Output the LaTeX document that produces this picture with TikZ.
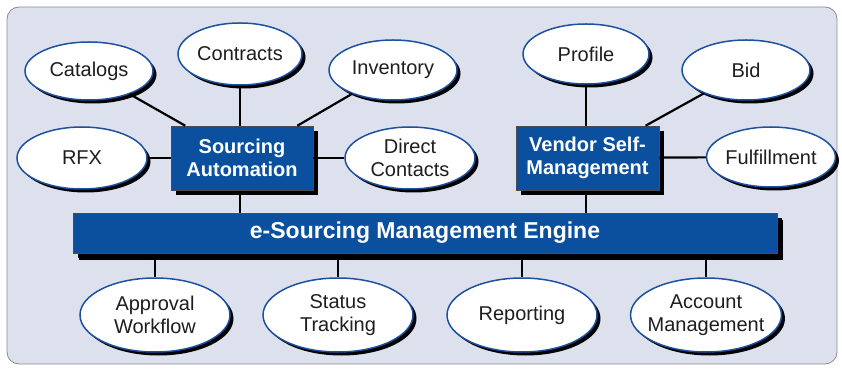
\documentclass[tikz,border=0pt]{standalone}
\usepackage{fontspec}
\setmainfont{Liberation Sans}
\usetikzlibrary{shapes.geometric,shadows}
\definecolor{bgfill}{RGB}{221,225,238}
\definecolor{bgline}{RGB}{140,140,140}
\definecolor{ovline}{RGB}{30,80,160}
\definecolor{boxblue}{RGB}{10,80,158}
\definecolor{txt}{RGB}{30,30,30}
\tikzset{
  oval/.style={ellipse, draw=ovline, line width=1.5pt, fill=white, inner sep=0pt,
    align=center, text=txt, font=\fontsize{20}{22.5}\selectfont,
    drop shadow={shadow xshift=3.5pt, shadow yshift=-3.5pt, fill=black, opacity=1}},
  bluebox/.style={rectangle, fill=boxblue, draw=black!70, line width=0.6pt, inner sep=0pt,
    align=center, text=white, font=\bfseries\fontsize{20}{22.5}\selectfont,
    drop shadow={shadow xshift=5pt, shadow yshift=-5pt, fill=black, opacity=1}},
  conn/.style={draw=black, line width=2.2pt},
  thin conn/.style={draw=black, line width=1.8pt}
}
\begin{document}
\begin{tikzpicture}[x=1pt,y=-1pt]
\useasboundingbox (0,0) rectangle (842,371);
\draw[fill=bgfill, draw=bgline, line width=0.8pt, rounded corners=12pt] (7,7) rectangle (837,364);
% blue boxes
\node[bluebox, minimum width=142pt, minimum height=64pt] (sa) at (242,158) {Sourcing\\Automation};
\node[bluebox, minimum width=143pt, minimum height=64pt] (vsm) at (587.5,158) {Vendor Self-\\Management};
\node[bluebox, minimum width=704pt, minimum height=40pt, font=\bfseries\fontsize{23}{25}\selectfont,
  drop shadow={shadow xshift=6pt, shadow yshift=-7pt, fill=black, opacity=1}] (eng) at (425,233) {e-Sourcing Management Engine};
% ovals
\node[oval, minimum width=128pt, minimum height=58pt] (cat) at (89,71) {Catalogs};
\node[oval, minimum width=124pt, minimum height=62pt] (con) at (240,54) {Contracts};
\node[oval, minimum width=130pt, minimum height=62pt] (rfx) at (82,158) {RFX};
\node[oval, minimum width=128pt, minimum height=60pt] (inv) at (393,70) {Inventory};
\node[oval, minimum width=130pt, minimum height=62pt] (dc) at (410,158) {Direct\\Contacts};
\node[oval, minimum width=126pt, minimum height=60pt] (pro) at (586,54) {Profile};
\node[oval, minimum width=128pt, minimum height=60pt] (bid) at (746,70) {Bid};
\node[oval, minimum width=122pt, minimum height=60pt] (ful) at (771,157) {Fulfillment};
\node[oval, minimum width=150pt, minimum height=74pt] (apw) at (155,315) {Approval\\Workflow};
\node[oval, minimum width=150pt, minimum height=74pt] (stt) at (338,315) {Status\\Tracking};
\node[oval, minimum width=150pt, minimum height=74pt] (rep) at (522,315) {Reporting};
\node[oval, minimum width=150pt, minimum height=74pt, inner xsep=-5pt] (acm) at (706,315) {Account\\Management};
% connectors
\draw[conn] (cat) -- (sa);
\draw[conn] (con.south) -- (con.south |- sa.north);
\draw[conn] (inv) -- (sa);
\draw[conn] (rfx) -- (sa);
\draw[conn] (sa) -- (dc);
\draw[conn] (pro.south) -- (pro.south |- vsm.north);
\draw[conn] (bid) -- (vsm);
\draw[conn] (vsm) -- (ful);
\draw[thin conn] ([yshift=-5pt]sa.south -| con.south) -- (con.south |- eng.north);
\draw[thin conn] ([yshift=-5pt]vsm.south -| pro.south) -- (pro.south |- eng.north);
\draw[thin conn] ([yshift=-7pt]eng.south -| apw.north) -- (apw.north);
\draw[thin conn] ([yshift=-7pt]eng.south -| stt.north) -- (stt.north);
\draw[thin conn] ([yshift=-7pt]eng.south -| rep.north) -- (rep.north);
\draw[thin conn] ([yshift=-7pt]eng.south -| acm.north) -- (acm.north);
\end{tikzpicture}
\end{document}
